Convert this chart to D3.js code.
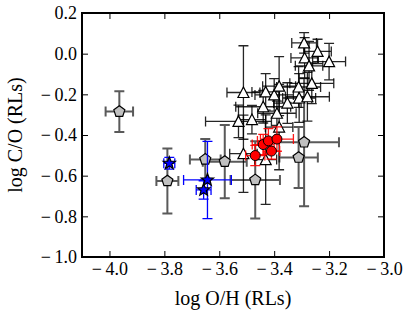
<!DOCTYPE html>
<html>
<head>
<meta charset="utf-8">
<script src="https://cdn.jsdelivr.net/npm/d3@7"></script>
<style>
  body { margin: 0; background: #fff; }
  text { font-family: "Liberation Serif", "DejaVu Serif", serif; }
</style>
</head>
<body>
<svg width="414" height="311"></svg>
<script>
const xTicks = [-4.0, -3.8, -3.6, -3.4, -3.2, -3.0];
const yTicks = [0.2, 0.0, -0.2, -0.4, -0.6, -0.8, -1.0];

// each row: [log O/H, log C/O, err O/H, err C/O]
const triangles = [
  [-3.291, 0.053, 0.045, 0.05],
  [-3.242, 0.011, 0.05, 0.06],
  [-3.200, -0.039, 0.06, 0.09],
  [-3.289, -0.021, 0.05, 0.10],
  [-3.273, -0.060, 0.05, 0.12],
  [-3.512, -0.191, 0.06, 0.23],
  [-3.431, -0.188, 0.05, 0.09],
  [-3.400, -0.203, 0.07, 0.08],
  [-3.382, -0.160, 0.06, 0.145],
  [-3.311, -0.164, 0.08, 0.10],
  [-3.263, -0.146, 0.08, 0.10],
  [-3.440, -0.261, 0.10, 0.08],
  [-3.352, -0.243, 0.05, 0.10],
  [-3.309, -0.218, 0.06, 0.12],
  [-3.279, -0.212, 0.08, 0.12],
  [-3.481, -0.324, 0.05, 0.07],
  [-3.390, -0.293, 0.07, 0.06],
  [-3.382, -0.361, 0.05, 0.21],
  [-3.530, -0.333, 0.12, 0.08],
  [-3.512, -0.492, 0.05, 0.19],
  [-3.431, -0.521, 0.04, 0.22]
];

const pentagons = [
  [-3.964, -0.285, 0.05, 0.10],
  [-3.789, -0.626, 0.04, 0.16],
  [-3.651, -0.520, 0.056, 0.10],
  [-3.580, -0.531, 0.08, 0.18],
  [-3.469, -0.621, 0.09, 0.19],
  [-3.311, -0.511, 0.07, 0.15],
  [-3.291, -0.436, 0.127, 0.315]
];

const stars = [
  [-3.782, -0.539, 0.02, 0.029],
  [-3.643, -0.621, 0.087, 0.19],
  [-3.657, -0.670, 0.027, 0.045]
];

const circles = [
  [-3.469, -0.501, 0.035, 0.05],
  [-3.440, -0.447, 0.04, 0.05],
  [-3.421, -0.429, 0.04, 0.06],
  [-3.390, -0.420, 0.06, 0.06],
  [-3.410, -0.479, 0.03, 0.04]
];

const svg = d3.select('svg');
const plotL = 82, plotR = 384, plotT = 13, plotB = 257;

const x = d3.scaleLinear().domain([-4.1, -3.0]).range([plotL, plotR]);
const y = d3.scaleLinear().domain([-1.0, 0.2]).range([plotB, plotT]);
const fmt = d => d3.format('.1f')(d).replace('\u2212', '\u2212\u2009');
const cap = 5;

// axes, ticks pointing inward
const ax = (g, axis) => {
  g.call(axis);
  g.select('.domain').remove();
  g.selectAll('line').attr('stroke', '#000').attr('stroke-width', 1);
  g.selectAll('text').attr('font-size', 18).attr('fill', '#000')
    .attr('font-family', '"Liberation Serif", serif');
};
svg.append('g').attr('transform', `translate(0,${plotB})`)
  .call(ax, d3.axisBottom(x).tickValues(xTicks).tickFormat(fmt).tickSizeInner(-6).tickSizeOuter(0).tickPadding(5));
svg.append('g').attr('transform', `translate(0,${plotT})`)
  .call(ax, d3.axisTop(x).tickValues(xTicks).tickFormat('').tickSizeInner(-6).tickSizeOuter(0));
svg.append('g').attr('transform', `translate(${plotL},0)`)
  .call(ax, d3.axisLeft(y).tickValues(yTicks).tickFormat(fmt).tickSizeInner(-6).tickSizeOuter(0).tickPadding(5));
svg.append('g').attr('transform', `translate(${plotR},0)`)
  .call(ax, d3.axisRight(y).tickValues(yTicks).tickFormat('').tickSizeInner(-6).tickSizeOuter(0));

svg.append('rect')
  .attr('x', plotL).attr('y', plotT)
  .attr('width', plotR - plotL).attr('height', plotB - plotT)
  .attr('fill', 'none').attr('stroke', '#000').attr('stroke-width', 2);

// axis titles
svg.append('text')
  .attr('x', (plotL + plotR) / 2).attr('y', 305)
  .attr('text-anchor', 'middle').attr('font-size', 20)
  .text('log O/H (RLs)');
svg.append('text')
  .attr('transform', `translate(22,${(plotT + plotB) / 2}) rotate(-90)`)
  .attr('text-anchor', 'middle').attr('font-size', 20)
  .text('log C/O (RLs)');

// marker shapes
const polygon = (n, r, rot) => d3.range(n).map(i => {
  const a = rot + i * 2 * Math.PI / n;
  return [r * Math.cos(a), r * Math.sin(a)];
});
const starPts = r => d3.range(10).map(i => {
  const a = -Math.PI / 2 + i * Math.PI / 5;
  const rr = i % 2 ? r * 0.42 : r;
  return [rr * Math.cos(a), rr * Math.sin(a)];
});
const closed = pts => 'M' + pts.map(p => p.join(',')).join('L') + 'Z';
const shapes = {
  tri: closed([[0, -5.5], [5.5, 5], [-5.5, 5]]),
  pent: closed(polygon(5, 5.8, -Math.PI / 2)),
  star: closed(starPts(6.5))
};

function errorBars(g, data, color, width, opacity) {
  const e = g.append('g').attr('stroke', color).attr('stroke-width', width)
    .attr('stroke-opacity', opacity).attr('fill', 'none');
  data.forEach(d => {
    const cx = x(d[0]), cy = y(d[1]);
    const x0 = x(d[0] - d[2]), x1 = x(d[0] + d[2]);
    const y0 = y(d[1] - d[3]), y1 = y(d[1] + d[3]);
    e.append('path').attr('d',
      `M${x0},${cy}H${x1}M${cx},${y0}V${y1}` +
      `M${x0},${cy - cap}V${cy + cap}M${x1},${cy - cap}V${cy + cap}` +
      `M${cx - cap},${y0}H${cx + cap}M${cx - cap},${y1}H${cx + cap}`);
  });
}

function series(data, opts) {
  const g = svg.append('g');
  errorBars(g, data, opts.err, opts.errWidth, opts.errOpacity);
  const m = g.selectAll('.m').data(data).enter();
  if (opts.shape === 'circle') {
    m.append('circle')
      .attr('cx', d => x(d[0])).attr('cy', d => y(d[1])).attr('r', 5)
      .attr('fill', opts.fill).attr('stroke', '#000').attr('stroke-width', 1);
  } else {
    m.append('path')
      .attr('transform', d => `translate(${x(d[0])},${y(d[1])})`)
      .attr('d', shapes[opts.shape])
      .attr('fill', opts.fill).attr('stroke', '#000').attr('stroke-width', 1.2);
  }
}

series(pentagons, { shape: 'pent', fill: '#c0c0c0', err: '#5a5a5a', errWidth: 2, errOpacity: 1 });
series(triangles, { shape: 'tri', fill: '#fff', err: '#000', errWidth: 1.3, errOpacity: 0.85 });
series(stars, { shape: 'star', fill: '#0000ff', err: '#0000ff', errWidth: 1.3, errOpacity: 1 });
series(circles, { shape: 'circle', fill: '#ff0000', err: '#ff0000', errWidth: 1.3, errOpacity: 0.9 });
</script>
</body>
</html>
